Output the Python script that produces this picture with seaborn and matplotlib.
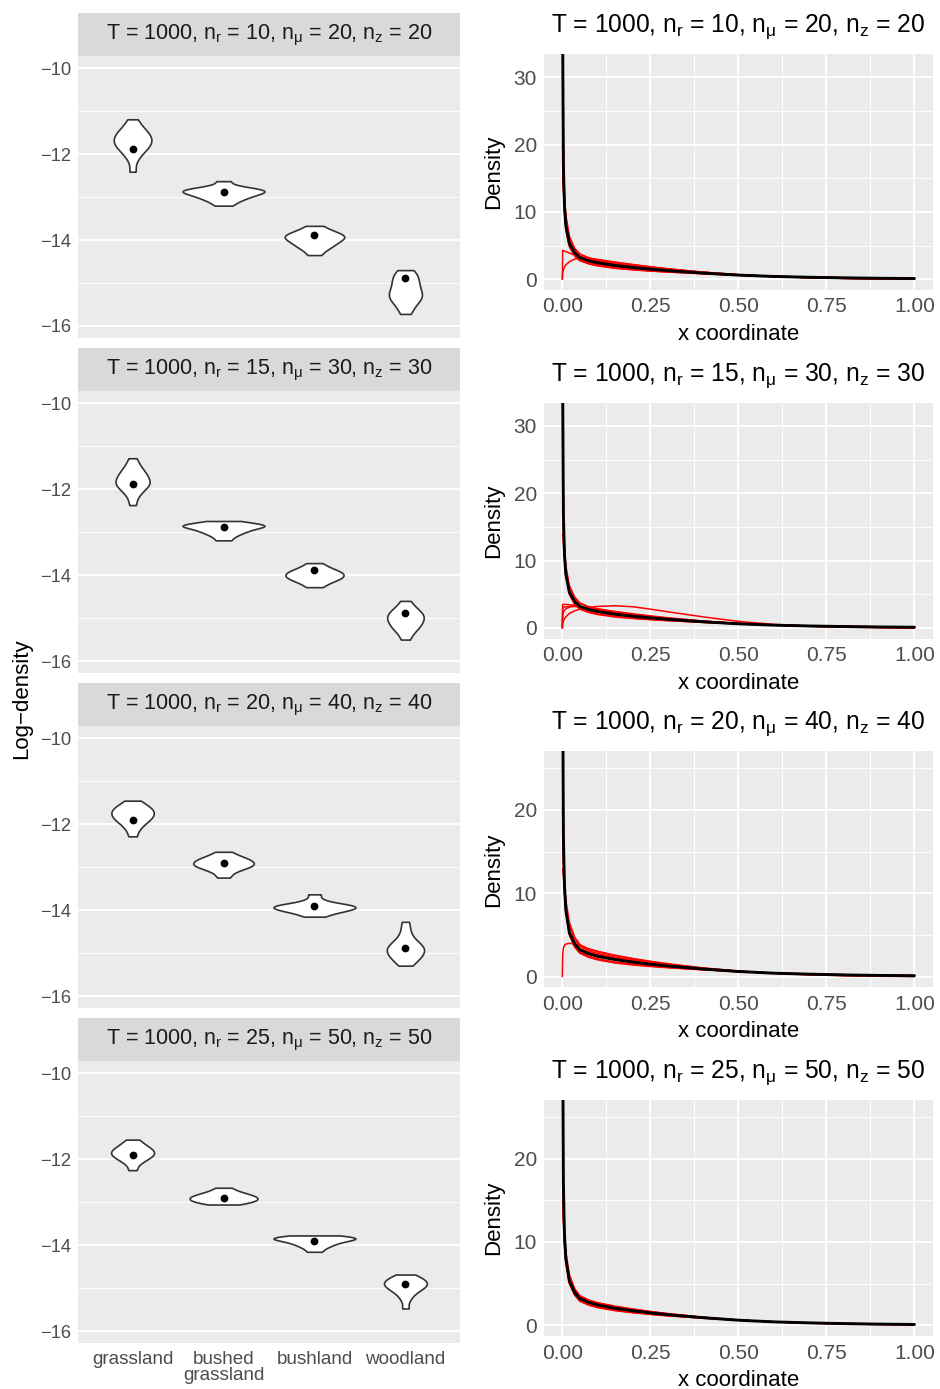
import numpy as np
import pandas as pd
import matplotlib
matplotlib.use("Agg")
import matplotlib.pyplot as plt
import seaborn as sns
from matplotlib.ticker import MultipleLocator, FixedLocator, FuncFormatter

sns.set_theme(style="darkgrid")
plt.rcParams["font.family"] = ["Liberation Sans", "DejaVu Sans"]
plt.rcParams["mathtext.fontset"] = "custom"
plt.rcParams["mathtext.rm"] = "Liberation Sans"
plt.rcParams["mathtext.it"] = "Liberation Sans"
plt.rcParams["mathtext.bf"] = "Liberation Sans:bold"
plt.rcParams["axes.unicode_minus"] = True

nan = np.nan

# ---- simulation settings (one row of panels each) ----
T_STEPS = 1000
N_R = [10, 15, 20, 25]
N_MU = [20, 30, 40, 50]
N_Z = [20, 30, 40, 50]

# ---- log-density of held-out points by habitat ----
HABITATS = ["grassland", "bushed\ngrassland", "bushland", "woodland"]
TRUE_LOGDENS = [-11.89, -12.89, -13.89, -14.89]

LOGDENS_DRAWS = [
    [  # n_r = 10
        [-11.19, -11.33, -11.42, -11.48, -11.53, -11.58, -11.625, -11.67, -11.71,
         -11.755, -11.80, -11.85, -11.91, -11.99, -12.12, -12.41],
        [-12.63, -12.76, -12.79, -12.82, -12.84, -12.86, -12.87, -12.89, -12.92,
         -12.95, -12.98, -13.01, -13.06, -13.11, -13.2],
        [-13.67, -13.76, -13.81, -13.85, -13.88, -13.91, -13.93, -13.96, -14.0,
         -14.03, -14.07, -14.12, -14.17, -14.23, -14.35],
        [-14.7, -14.77, -14.85, -14.92, -14.99, -15.06, -15.13, -15.2, -15.25,
         -15.3, -15.35, -15.4, -15.47, -15.58, -15.72],
    ],
    [  # n_r = 15
        [-11.28, -11.43, -11.52, -11.59, -11.64, -11.69, -11.74, -11.79, -11.83,
         -11.86, -11.9, -11.94, -11.99, -12.06, -12.17, -12.37],
        [-12.74, -12.78, -12.805, -12.825, -12.84, -12.855, -12.867, -12.88,
         -12.91, -12.94, -12.97, -13.0, -13.045, -13.1, -13.19],
        [-13.72, -13.8, -13.85, -13.89, -13.92, -13.95, -13.97, -14.0, -14.03,
         -14.05, -14.08, -14.11, -14.15, -14.2, -14.28],
        [-14.6, -14.73, -14.8, -14.85, -14.9, -14.94, -14.98, -15.02, -15.06,
         -15.11, -15.16, -15.21, -15.27, -15.35, -15.5],
    ],
    [  # n_r = 20
        [-11.45, -11.52, -11.58, -11.62, -11.66, -11.69, -11.72, -11.76, -11.8,
         -11.83, -11.87, -11.91, -11.96, -12.03, -12.12, -12.28],
        [-12.64, -12.72, -12.77, -12.8, -12.83, -12.86, -12.89, -12.91, -12.94,
         -12.96, -12.99, -13.02, -13.06, -13.13, -13.24],
        [-13.63, -13.75, -13.825, -13.853, -13.874, -13.893, -13.91, -13.925,
         -13.94, -13.96, -13.98, -14.0, -14.02, -14.05, -14.09, -14.15],
        [-14.27, -14.45, -14.6, -14.7, -14.76, -14.81, -14.85, -14.89, -14.92,
         -14.96, -15.0, -15.04, -15.09, -15.14, -15.2, -15.29],
    ],
    [  # n_r = 25
        [-11.54, -11.62, -11.68, -11.72, -11.76, -11.79, -11.82, -11.85, -11.88,
         -11.91, -11.94, -11.98, -12.03, -12.1, -12.25],
        [-12.66, -12.73, -12.77, -12.8, -12.83, -12.85, -12.87, -12.89, -12.91,
         -12.93, -12.95, -12.97, -12.99, -13.02, -13.05],
        [-13.77, -13.79, -13.8, -13.82, -13.83, -13.85, -13.86, -13.87, -13.9,
         -13.92, -13.95, -13.98, -14.02, -14.07, -14.15],
        [-14.68, -14.73, -14.77, -14.8, -14.83, -14.86, -14.89, -14.91, -14.94,
         -14.97, -15.0, -15.04, -15.09, -15.16, -15.27, -15.47],
    ],
]

# ---- estimated x-coordinate densities ----
X_GRID = [0, 0.001, 0.003, 0.006, 0.01, 0.02, 0.035, 0.05, 0.075, 0.1, 0.15,
          0.2, 0.25, 0.3, 0.4, 0.5, 0.6, 0.7, 0.8, 0.9, 1.0]

TRUE_DENSITY = [nan, 36, 17, 11, 8, 5.3, 3.95, 3.2, 2.75, 2.45, 2.05, 1.75,
                1.5, 1.28, 0.92, 0.62, 0.42, 0.3, 0.21, 0.15, 0.11]

DENSITY_DRAWS = [
    [  # n_r = 10
        [0, 4.3, 4.25, 4.2, 4.1, 3.9, 3.6, 3.35, 3.05, 2.8, 2.4, 2.1, 1.8, 1.5, 1.05, 0.68, 0.42, 0.25, 0.14, 0.07, 0.03],
        [0, 0.9, 1.4, 1.8, 2.15, 2.6, 3.0, 3.15, 3.1, 2.95, 2.55, 2.2, 1.85, 1.55, 1.06, 0.68, 0.42, 0.25, 0.13, 0.06, 0.02],
        [nan, 15, 13, 11.5, 9.5, 6.4, 4.6, 3.75, 3.15, 2.82, 2.4, 2.05, 1.75, 1.47, 1.0, 0.64, 0.4, 0.25, 0.15, 0.09, 0.05],
        [nan, 40, 19, 12, 8.5, 5.1, 3.55, 2.8, 2.3, 2.0, 1.62, 1.4, 1.22, 1.07, 0.82, 0.6, 0.44, 0.32, 0.24, 0.18, 0.14],
        [nan, 30, 15, 10, 7.3, 4.8, 3.45, 2.75, 2.3, 2.02, 1.66, 1.43, 1.24, 1.09, 0.83, 0.6, 0.44, 0.32, 0.24, 0.18, 0.13],
        [nan, 25, 16, 12, 9.2, 6.1, 4.5, 3.7, 3.2, 2.9, 2.5, 2.15, 1.85, 1.55, 1.05, 0.66, 0.4, 0.23, 0.13, 0.07, 0.03],
        [nan, 35, 17, 11.5, 8.4, 5.6, 4.15, 3.4, 2.95, 2.65, 2.25, 1.93, 1.66, 1.4, 0.97, 0.63, 0.4, 0.26, 0.16, 0.1, 0.06],
        [nan, 20, 14, 10.5, 8.3, 5.5, 3.85, 3.0, 2.52, 2.22, 1.83, 1.57, 1.36, 1.18, 0.87, 0.62, 0.44, 0.31, 0.22, 0.16, 0.12],
        [nan, 45, 21, 13, 9, 5.5, 3.8, 2.95, 2.45, 2.15, 1.76, 1.51, 1.31, 1.14, 0.85, 0.61, 0.44, 0.31, 0.23, 0.17, 0.13],
    ],
    [  # n_r = 15
        [0, 0.6, 1.0, 1.35, 1.65, 2.15, 2.55, 2.8, 3.05, 3.2, 3.3, 3.15, 2.8, 2.4, 1.65, 0.98, 0.54, 0.27, 0.12, 0.05, 0.02],
        [0, 3.5, 3.5, 3.5, 3.5, 3.45, 3.35, 3.2, 2.95, 2.7, 2.3, 1.95, 1.65, 1.4, 1.0, 0.68, 0.44, 0.28, 0.17, 0.1, 0.05],
        [0, 3.0, 3.05, 3.1, 3.15, 3.2, 3.2, 3.1, 2.9, 2.65, 2.25, 1.9, 1.6, 1.35, 0.95, 0.64, 0.42, 0.27, 0.17, 0.1, 0.06],
        [0, 1.8, 2.3, 2.6, 2.85, 3.1, 3.25, 3.2, 3.0, 2.75, 2.3, 1.95, 1.65, 1.4, 0.98, 0.66, 0.43, 0.28, 0.17, 0.1, 0.05],
        [nan, 14, 12.5, 11, 9.2, 6.3, 4.6, 3.7, 3.15, 2.82, 2.38, 2.03, 1.72, 1.45, 0.99, 0.64, 0.41, 0.26, 0.16, 0.1, 0.06],
        [nan, 38, 18, 11.5, 8.2, 5.0, 3.5, 2.78, 2.3, 2.0, 1.63, 1.41, 1.23, 1.08, 0.83, 0.6, 0.44, 0.32, 0.24, 0.18, 0.14],
        [nan, 28, 15, 10.5, 7.9, 5.4, 4.0, 3.3, 2.8, 2.45, 2.05, 1.74, 1.48, 1.27, 0.91, 0.62, 0.42, 0.29, 0.2, 0.14, 0.1],
        [nan, 22, 15, 11.5, 9.0, 6.0, 4.45, 3.65, 3.15, 2.85, 2.45, 2.1, 1.8, 1.52, 1.03, 0.66, 0.41, 0.25, 0.15, 0.08, 0.04],
        [nan, 33, 16, 11, 8.2, 5.3, 3.85, 3.1, 2.62, 2.3, 1.9, 1.63, 1.4, 1.21, 0.88, 0.62, 0.43, 0.3, 0.22, 0.16, 0.12],
        [nan, 45, 20, 12.5, 8.6, 5.2, 3.6, 2.85, 2.38, 2.08, 1.7, 1.46, 1.27, 1.11, 0.84, 0.61, 0.44, 0.32, 0.23, 0.17, 0.13],
    ],
    [  # n_r = 20
        [0, 2.6, 3.4, 3.75, 3.9, 4.0, 3.9, 3.7, 3.35, 3.05, 2.55, 2.15, 1.8, 1.5, 1.02, 0.66, 0.4, 0.23, 0.12, 0.05, 0.02],
        [nan, 13, 12, 10.8, 9.2, 6.5, 4.75, 3.85, 3.3, 2.98, 2.55, 2.18, 1.85, 1.55, 1.05, 0.67, 0.41, 0.25, 0.15, 0.08, 0.04],
        [nan, 36, 17.5, 11.2, 8.1, 5.0, 3.55, 2.8, 2.32, 2.02, 1.64, 1.4, 1.22, 1.07, 0.82, 0.6, 0.44, 0.32, 0.24, 0.18, 0.14],
        [nan, 26, 14, 10, 7.7, 5.35, 4.1, 3.4, 2.95, 2.65, 2.25, 1.92, 1.64, 1.39, 0.97, 0.64, 0.41, 0.27, 0.17, 0.11, 0.07],
        [nan, 30, 15.5, 10.6, 7.9, 5.1, 3.7, 2.95, 2.46, 2.15, 1.75, 1.5, 1.3, 1.13, 0.85, 0.61, 0.44, 0.31, 0.23, 0.17, 0.13],
        [nan, 20, 14, 11, 8.8, 6.1, 4.5, 3.65, 3.1, 2.78, 2.35, 2.02, 1.72, 1.45, 1.0, 0.65, 0.41, 0.26, 0.16, 0.09, 0.05],
        [nan, 33, 16, 10.8, 8.0, 5.3, 3.9, 3.2, 2.72, 2.4, 2.0, 1.7, 1.46, 1.25, 0.9, 0.62, 0.42, 0.29, 0.2, 0.14, 0.1],
        [nan, 42, 19, 12, 8.4, 5.1, 3.6, 2.85, 2.38, 2.08, 1.7, 1.46, 1.27, 1.11, 0.84, 0.61, 0.44, 0.32, 0.23, 0.17, 0.13],
    ],
    [  # n_r = 25
        [nan, 15, 12.5, 10.5, 8.8, 6.1, 4.4, 3.55, 3.05, 2.72, 2.3, 1.96, 1.67, 1.41, 0.97, 0.64, 0.41, 0.27, 0.17, 0.11, 0.07],
        [nan, 34, 17, 11.3, 8.1, 5.0, 3.6, 2.88, 2.42, 2.13, 1.76, 1.51, 1.31, 1.14, 0.86, 0.62, 0.44, 0.31, 0.23, 0.17, 0.13],
        [nan, 24, 13.5, 9.7, 7.5, 5.25, 3.98, 3.25, 2.78, 2.46, 2.05, 1.75, 1.5, 1.28, 0.92, 0.63, 0.42, 0.29, 0.2, 0.14, 0.1],
        [nan, 29, 15.5, 10.5, 7.8, 5.15, 3.8, 3.07, 2.6, 2.3, 1.9, 1.63, 1.41, 1.22, 0.9, 0.63, 0.43, 0.3, 0.22, 0.16, 0.11],
        [nan, 19, 13, 10.2, 8.2, 5.8, 4.3, 3.5, 3.0, 2.68, 2.26, 1.93, 1.65, 1.4, 0.97, 0.64, 0.41, 0.27, 0.17, 0.11, 0.07],
        [nan, 38, 18, 11.6, 8.3, 5.1, 3.7, 2.95, 2.48, 2.18, 1.8, 1.55, 1.34, 1.16, 0.87, 0.62, 0.44, 0.31, 0.23, 0.17, 0.13],
        [nan, 27, 15, 10.9, 8.3, 5.5, 4.1, 3.35, 2.88, 2.57, 2.16, 1.84, 1.57, 1.34, 0.95, 0.63, 0.42, 0.28, 0.19, 0.13, 0.09],
    ],
]

DENSITY_YMAX = [33.45, 33.45, 27.0, 27.0]
DENSITY_TICKS = [[0, 10, 20, 30], [0, 10, 20, 30], [0, 10, 20], [0, 10, 20]]

# ---- styling ----
PANEL_BG = "#EBEBEB"
STRIP_BG = "#D9D9D9"
TICK_COL = "#333333"
LABEL_COL = "#4D4D4D"

W, H = 940, 1389
fig = plt.figure(figsize=(W / 100, H / 100), dpi=100)
fig.patch.set_facecolor("white")


def px_axes(x0, y0, x1, y1):
    return fig.add_axes([x0 / W, 1 - y1 / H, (x1 - x0) / W, (y1 - y0) / H])


def gg_style(ax, lab_size):
    ax.set_facecolor(PANEL_BG)
    for s in ax.spines.values():
        s.set_visible(False)
    ax.grid(which="major", color="white", linewidth=1.3)
    ax.grid(which="minor", color="white", linewidth=0.65)
    ax.set_axisbelow(True)
    ax.tick_params(which="major", length=3.2, width=0.9, color=TICK_COL,
                   labelcolor=LABEL_COL, labelsize=lab_size, direction="out")
    ax.tick_params(which="minor", length=0)


def title_text(i):
    return (f"T = {T_STEPS}, " + r"$n_{\mathrm{r}}$" + f" = {N_R[i]}, " +
            r"$n_{\mu}$" + f" = {N_MU[i]}, " + r"$n_{\mathrm{z}}$" + f" = {N_Z[i]}")


# ---- left column: violins of log-density ----
LX0, LX1 = 78, 460
for i in range(4):
    pb = 338 + 335.1 * i
    pt = pb - 282.3
    st = pt - 42.7

    sax = px_axes(LX0, st, LX1, pt)
    sax.set_facecolor(STRIP_BG)
    for s in sax.spines.values():
        s.set_visible(False)
    sax.set_xticks([])
    sax.set_yticks([])
    sax.grid(False)
    sax.text(0.5, 0.47, title_text(i), ha="center", va="center",
             fontsize=15.5, color="#1A1A1A", transform=sax.transAxes)

    ax = px_axes(LX0, pt, LX1, pb)
    gg_style(ax, 13.2)
    rows = []
    for hab, vals in zip(HABITATS, LOGDENS_DRAWS[i]):
        rows += [(hab, v) for v in vals]
    df = pd.DataFrame(rows, columns=["habitat", "logdens"])
    sns.violinplot(data=df, x="habitat", y="logdens", order=HABITATS, ax=ax,
                   cut=0, inner=None, density_norm="area", width=0.9,
                   bw_adjust=0.75, color="white", saturation=1,
                   linecolor="#333333", linewidth=1.2)
    sns.stripplot(x=HABITATS, y=TRUE_LOGDENS, order=HABITATS, ax=ax,
                  jitter=False, color="black", size=5.6, zorder=4)
    ax.set_xlim(-0.6, 3.6)
    ax.set_ylim(-16.28, -9.71)
    ax.yaxis.set_major_locator(FixedLocator([-16, -14, -12, -10]))
    ax.yaxis.set_minor_locator(FixedLocator([-15, -13, -11]))
    ax.yaxis.set_major_formatter(FuncFormatter(lambda v, p: f"{v:.0f}".replace("-", "\u2212")))
    ax.tick_params(axis="y", pad=1.8)
    ax.set_xlabel("")
    ax.set_ylabel("")
    if i < 3:
        ax.tick_params(axis="x", length=0, labelbottom=False)
    else:
        ax.tick_params(axis="x", pad=2.4, labelsize=13.6)
        for lab in ax.get_xticklabels():
            lab.set_linespacing(0.92)

fig.text(22 / W, 1 - 699 / H, "Log\u2212density", rotation=90, ha="center",
         va="center", fontsize=16, color="black")

# ---- right column: density curves of the x coordinate ----
RX0, RX1 = 544, 932.7
for i in range(4):
    top = 54 + 348.7 * i
    bot = top + 236
    ax = px_axes(RX0, top, RX1, bot)
    gg_style(ax, 15)
    recs = []
    for k, curve in enumerate(DENSITY_DRAWS[i]):
        recs += [(k, x, y) for x, y in zip(X_GRID, curve)]
    dd = pd.DataFrame(recs, columns=["draw", "x", "density"]).dropna()
    sns.lineplot(data=dd, x="x", y="density", units="draw", estimator=None,
                 color="red", linewidth=1.1, ax=ax, legend=False, sort=False)
    sns.lineplot(x=X_GRID, y=TRUE_DENSITY, color="black", linewidth=2.1,
                 ax=ax, legend=False, sort=False)
    ymax = DENSITY_YMAX[i]
    ax.set_xlim(-0.052, 1.052)
    ax.set_ylim(-ymax / 21.0, ymax)
    ax.xaxis.set_major_locator(FixedLocator([0, 0.25, 0.5, 0.75, 1.0]))
    ax.xaxis.set_minor_locator(FixedLocator([0.125, 0.375, 0.625, 0.875]))
    ax.xaxis.set_major_formatter(FuncFormatter(lambda v, p: f"{v:.2f}"))
    ax.yaxis.set_major_locator(FixedLocator(DENSITY_TICKS[i]))
    ax.yaxis.set_minor_locator(MultipleLocator(5))
    ax.tick_params(axis="y", pad=1.8)
    ax.tick_params(axis="x", pad=2.2)
    ax.set_xlabel("")
    ax.set_ylabel("")
    cx = (RX0 + RX1) / 2
    fig.text(cx / W, 1 - (top - 22.3) / H, title_text(i), ha="center",
             va="baseline", fontsize=17.7, color="black")
    fig.text(cx / W, 1 - (bot + 50) / H, "x coordinate", ha="center",
             va="baseline", fontsize=16, color="black")
    fig.text(494 / W, 1 - (top + bot) / 2 / H, "Density", rotation=90,
             ha="center", va="center", fontsize=16, color="black")

fig.savefig("out.png", dpi=100, facecolor="white")
